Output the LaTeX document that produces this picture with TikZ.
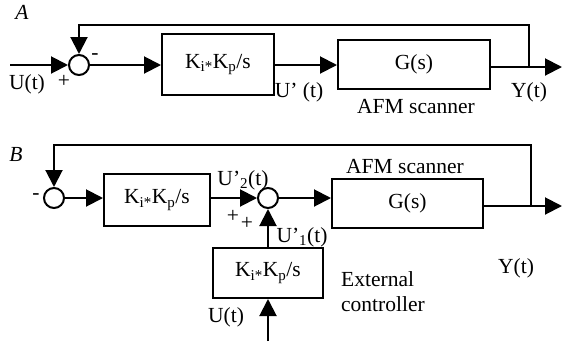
\documentclass[tikz,border=0pt]{standalone}
\usepackage{fontspec}
\setmainfont{Liberation Serif}
\usetikzlibrary{arrows.meta}
\begin{document}
\begin{tikzpicture}[x=1pt,y=-1pt,
  every node/.style={font=\fontsize{21.5}{26}\selectfont},
  blk/.style={draw, line width=2pt, inner sep=0pt},
  sumc/.style={circle, draw, line width=2pt, minimum size=20pt, inner sep=0pt},
  wire/.style={line width=2pt},
  sig/.style={wire, -{Triangle[length=17pt,width=17pt]}},
  lbl/.style={inner sep=0pt}]
\useasboundingbox (0,0) rectangle (563,341);
% ---------- A ----------
\node[lbl, font=\fontsize{21.5}{26}\selectfont\itshape] (labA) at (22,12) {A};
\node[sumc] (sA) at (79,65) {};
\node[blk, minimum width=112pt, minimum height=61pt] (kA) at (218,64.5) {K\textsubscript{i*}K\textsubscript{p}/s};
\node[blk, minimum width=152pt, minimum height=49pt] (gA) at (414,64.5) {G(s)};
\coordinate (inA) at (10,65);
\coordinate (jA) at (529,67);
\coordinate (outA) at (562,67);
\coordinate (tA) at (79,25);
\draw[sig] (inA) -- (sA.west);
\draw[sig] (sA.east) -- (sA.east -| kA.west);
\draw[sig] (kA.east |- sA.east) -- (sA.east -| gA.west);
\draw[sig] (gA.east |- outA) -- (outA);
\draw[sig] (jA) |- (tA) -- (sA.north);
\node[lbl] (uA) at (27,84) {U(t)};
\node[lbl] (pA) at (64,81) {+};
\node[lbl] (mA) at (95,57) {-};
\node[lbl] (upA) at (299,92) {U’ (t)};
\node[lbl] (yA) at (529,92) {Y(t)};
\node[lbl] (afmA) at (416,107) {AFM scanner};
% ---------- B ----------
\node[lbl, font=\fontsize{21.5}{26}\selectfont\itshape] (labB) at (16,154) {B};
\node[sumc] (sB1) at (54,198) {};
\node[blk, minimum width=106pt, minimum height=52pt] (kB1) at (157,200) {K\textsubscript{i*}K\textsubscript{p}/s};
\node[sumc] (sB2) at (268,198) {};
\node[blk, minimum width=110pt, minimum height=50pt] (kB2) at (268,273) {K\textsubscript{i*}K\textsubscript{p}/s};
\node[blk, minimum width=151pt, minimum height=49pt] (gB) at (407.5,203.5) {G(s)};
\coordinate (inB) at (268,341);
\coordinate (jB) at (531,206);
\coordinate (outB) at (562,206);
\coordinate (tB) at (54,145);
\draw[sig] (sB1.east) -- (sB1.east -| kB1.west);
\draw[sig] (kB1.east |- sB2.west) -- (sB2.west);
\draw[sig] (kB2.north) -- (sB2.south);
\draw[sig] (inB) -- (kB2.south);
\draw[sig] (sB2.east) -- (sB2.east -| gB.west);
\draw[sig] (gB.east |- outB) -- (outB);
\draw[sig] (jB) |- (tB) -- (sB1.north);
\node[lbl] (mB) at (36,197) {-};
\node[lbl] (u2B) at (243,180) {U’\textsubscript{2}(t)};
\node[lbl] (p1B) at (233,216) {+};
\node[lbl] (p2B) at (247,223) {+};
\node[lbl] (u1B) at (302,237) {U’\textsubscript{1}(t)};
\node[lbl] (uB) at (226,317) {U(t)};
\node[lbl] (yB) at (516,268) {Y(t)};
\node[lbl] (afmB) at (405,167) {AFM scanner};
\node[lbl, align=left, anchor=west, font=\fontsize{21.5}{25}\selectfont] (ext) at (341,292) {External\\controller};
\end{tikzpicture}
\end{document}
